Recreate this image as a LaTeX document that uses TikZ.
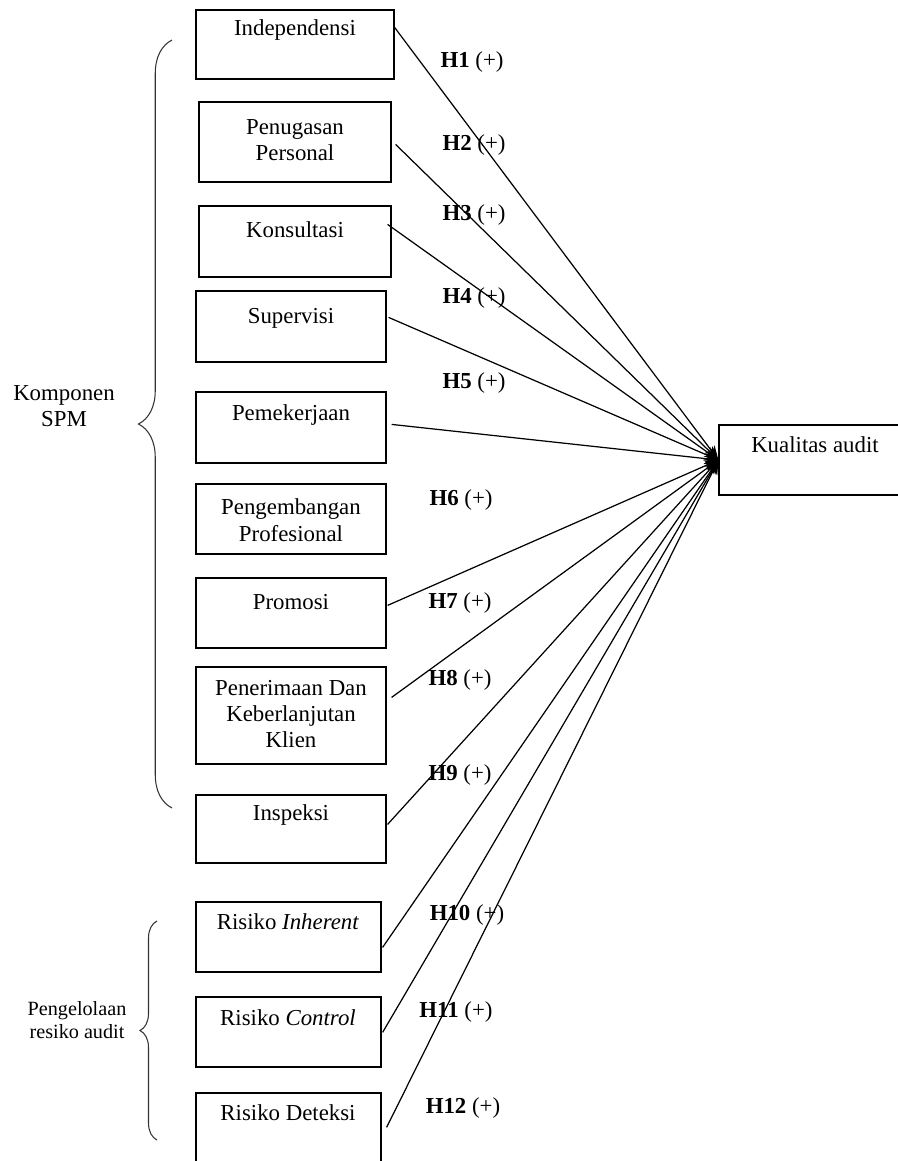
\documentclass[tikz,border=0pt]{standalone}
\usepackage{fontspec}
\setmainfont{Liberation Serif}
\usepackage{tikz}
\usetikzlibrary{arrows.meta,positioning,calc,decorations.pathreplacing}
\tikzset{
  kotak/.style={rectangle, draw=black, line width=0.7pt, inner sep=0pt},
  teks/.style={inner sep=0pt, align=center, font=\fontsize{13}{15}\selectfont},
  hlabel/.style={inner sep=0pt, font=\fontsize{13}{15}\selectfont},
  panah/.style={-{Stealth[length=8pt,width=6.5pt]}, line width=0.7pt, draw=black},
  kurung/.style={decorate, line width=0.6pt, draw=black!80}
}

\begin{document}
\begin{tikzpicture}[x=0.02cm, y=-0.02cm]
        \useasboundingbox (0,0) rectangle (898,1161);
        % kotak variabel
        \node[kotak, minimum width=3.96cm, minimum height=1.38cm] (ind) at (295,44.5) {};
        \node[kotak, minimum width=3.84cm, minimum height=1.60cm] (pen) at (295,142) {};
        \node[kotak, minimum width=3.84cm, minimum height=1.42cm] (kon) at (295,241.5) {};
        \node[kotak, minimum width=3.80cm, minimum height=1.42cm] (sup) at (291,326.5) {};
        \node[kotak, minimum width=3.80cm, minimum height=1.42cm] (pmk) at (291,427.5) {};
        \node[kotak, minimum width=3.80cm, minimum height=1.40cm] (pgb) at (291,519) {};
        \node[kotak, minimum width=3.80cm, minimum height=1.40cm] (pro) at (291,613) {};
        \node[kotak, minimum width=3.80cm, minimum height=1.94cm] (pnr) at (291,715.5) {};
        \node[kotak, minimum width=3.80cm, minimum height=1.36cm] (ins) at (291,829) {};
        \node[kotak, minimum width=3.70cm, minimum height=1.40cm] (inh) at (288.5,937) {};
        \node[kotak, minimum width=3.70cm, minimum height=1.40cm] (con) at (288.5,1032) {};
        \node[kotak, minimum width=3.70cm, minimum height=1.44cm] (det) at (288.5,1129) {};
        \node[kotak, minimum width=3.72cm, minimum height=1.40cm] (kual) at (812,460) {};
        % isi kotak
        \node[teks] (t-ind) at (295,30) {Independensi};
        \node[teks] (t-pen) at (295,140) {Penugasan\\Personal};
        \node[teks] (t-kon) at (295,230) {Konsultasi};
        \node[teks] (t-sup) at (291,318) {Supervisi};
        \node[teks] (t-pmk) at (291,415) {Pemekerjaan};
        \node[teks] (t-pgb) at (291,520) {Pengembangan\\Profesional};
        \node[teks] (t-pro) at (291,602) {Promosi};
        \node[teks] (t-pnr) at (291,714) {Penerimaan Dan\\Keberlanjutan\\Klien};
        \node[teks] (t-ins) at (291,815) {Inspeksi};
        \node[teks] (t-inh) at (288,922) {Risiko \textit{Inherent}};
        \node[teks] (t-con) at (288,1018) {Risiko \textit{Control}};
        \node[teks] (t-det) at (288,1113) {Risiko Deteksi};
        \node[teks] (t-kual) at (815,445) {Kualitas audit};
        % panah hipotesis
        \draw[panah] ($(ind.north east)+(0,18)$) -- (kual.west);
        \draw[panah] ($(pen.north east)+(4,43)$) -- (kual.west);
        \draw[panah] ($(kon.north east)+(-4,19)$) -- (kual.west);
        \draw[panah] ($(sup.north east)+(2,27)$) -- (kual.west);
        \draw[panah] ($(pmk.north east)+(5,33)$) -- (kual.west);
        \draw[panah] ($(pro.north east)+(1,28)$) -- (kual.west);
        \draw[panah] ($(pnr.north east)+(5,31)$) -- (kual.west);
        \draw[panah] ($(ins.north east)+(1,30)$) -- (kual.west);
        \draw[panah] ($(inh.north east)+(1,46)$) -- (kual.west);
        \draw[panah] ($(con.north east)+(1,36)$) -- (kual.west);
        \draw[panah] ($(det.north east)+(5,35)$) -- (kual.west);
        % label hipotesis
        \node[hlabel] (h1) at (472,62) {\textbf{H1} (+)};
        \node[hlabel] (h2) at (474,145) {\textbf{H2} (+)};
        \node[hlabel] (h3) at (474,215) {\textbf{H3} (+)};
        \node[hlabel] (h4) at (474,298) {\textbf{H4} (+)};
        \node[hlabel] (h5) at (474,383) {\textbf{H5} (+)};
        \node[hlabel] (h6) at (461,500) {\textbf{H6} (+)};
        \node[hlabel] (h7) at (460,603) {\textbf{H7} (+)};
        \node[hlabel] (h8) at (460,680) {\textbf{H8} (+)};
        \node[hlabel] (h9) at (460,775) {\textbf{H9} (+)};
        \node[hlabel] (h10) at (467,915) {\textbf{H10} (+)};
        \node[hlabel] (h11) at (456,1012) {\textbf{H11} (+)};
        \node[hlabel] (h12) at (463,1108) {\textbf{H12} (+)};
        % kurung kurawal
        \draw[kurung, decoration={brace, amplitude=0.67cm}] (172,808) -- (172,40);
        \draw[kurung, decoration={brace, amplitude=0.34cm}] (157,1140) -- (157,921);
        \node[teks] (spm) at (64,406) {Komponen\\SPM};
        \node[teks, font=\fontsize{11.5}{13.2}\selectfont] (resiko) at (77,1020) {Pengelolaan\\resiko audit};
      \end{tikzpicture}
\end{document}
